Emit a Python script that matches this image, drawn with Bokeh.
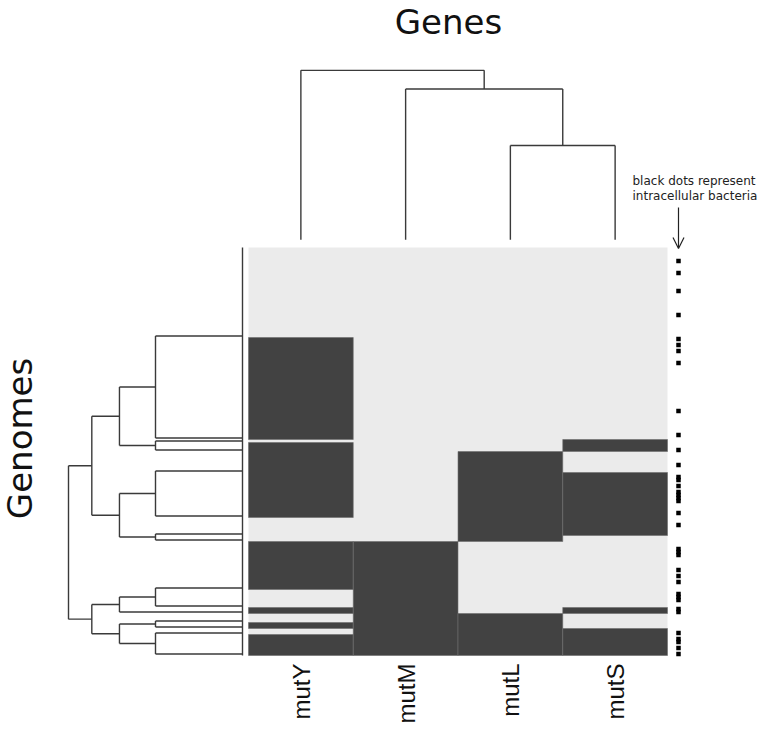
import math
from bokeh.plotting import figure
from bokeh.models import Range1d, Arrow, OpenHead
from bokeh.core.properties import value
from bokeh.embed import file_html
from bokeh.resources import INLINE

# ---------------- data ----------------
genes = ["mutY", "mutM", "mutL", "mutS"]

# genome clusters from top to bottom: presence (1) / absence (0) per gene
group_patterns = [
    [0, 0, 0, 0],
    [1, 0, 0, 0],
    [0, 0, 0, 1],
    [1, 0, 0, 1],
    [1, 0, 1, 0],
    [1, 0, 1, 1],
    [0, 0, 1, 1],
    [0, 0, 1, 0],
    [1, 1, 0, 0],
    [0, 1, 0, 0],
    [1, 1, 0, 1],
    [0, 1, 1, 0],
    [1, 1, 1, 0],
    [0, 1, 1, 1],
    [1, 1, 1, 1],
]
# number of genomes in each cluster
group_counts = [30, 34, 1, 3, 7, 15, 6, 2, 16, 6, 2, 3, 2, 2, 7]

# row dendrogram topology (leaves 0..14, merged nodes numbered from 15)
row_links = [(0, 1), (2, 3), (15, 16), (4, 5), (6, 7), (18, 19), (17, 20),
             (8, 9), (22, 10), (11, 12), (13, 14), (24, 25), (23, 26), (21, 27)]

# column dendrogram: (child_a, child_b, height); leaves 0..3 are the genes
col_links = [(2, 3, 4.47), (1, 4, 7.15), (0, 5, 8.03)]

# genome rows (0 = top) that are intracellular bacteria
intracellular_rows = [4, 8, 14, 22, 30, 32, 34, 38, 54, 62, 67, 72, 76, 77, 79,
                      81, 82, 83, 84, 88, 92, 100, 101, 102, 107, 109, 111,
                      115, 116, 117, 120, 121, 128, 130, 131, 133, 135]

# ---------------- layout (page pixels) ----------------
FIG_W, FIG_H, PAGE_M = 760, 728, 0
HEAT_L, HEAT_R, HEAT_T, HEAT_B = 248.0, 667.0, 247.0, 655.0
ROW_LEAF_X, ROW_SCALE = 242.0, 87.0      # px per unit distance
COL_LEAF_Y, COL_SCALE = 239.3, 21.1
DOT_PX = 678.0

n_rows = sum(group_counts)
col_w = (HEAT_R - HEAT_L) / len(genes)
row_h = (HEAT_B - HEAT_T) / n_rows
px_l, px_r, px_t, px_b = PAGE_M, PAGE_M + FIG_W, PAGE_M, PAGE_M + FIG_H


def gx(px):
    return (px - HEAT_L) / col_w


def gy(py):
    return (py - HEAT_T) / row_h


p = figure(width=FIG_W, height=FIG_H,
           x_range=Range1d(gx(px_l), gx(px_r)),
           y_range=Range1d(gy(px_b), gy(px_t)),
           output_backend="svg", toolbar_location=None,
           x_axis_location=None, y_axis_location=None,
           min_border=0, outline_line_color=None,
           background_fill_color="white", border_fill_color="white")
p.grid.visible = False
p.extra_x_ranges = {"rd": Range1d((ROW_LEAF_X - px_l) / ROW_SCALE, (ROW_LEAF_X - px_r) / ROW_SCALE)}
p.extra_y_ranges = {"cd": Range1d((COL_LEAF_Y - px_b) / COL_SCALE, (COL_LEAF_Y - px_t) / COL_SCALE)}

# ---------------- heatmap ----------------
LIGHT, DARK = "#ebebeb", "#424242"
starts = []
s = 0
for cnt in group_counts:
    starts.append(s)
    s += cnt

# light background of the matrix
p.quad(left=[0], right=[len(genes)], top=[0], bottom=[n_rows],
       fill_color=LIGHT, line_color=None)

# dark runs of consecutive present genomes, per gene
left, right, top, bottom = [], [], [], []
for j in range(len(genes)):
    run_start = None
    for g, pat in enumerate(group_patterns):
        if pat[j] and run_start is None:
            run_start = starts[g]
        if not pat[j] and run_start is not None:
            left.append(j); right.append(j + 1); top.append(run_start); bottom.append(starts[g])
            run_start = None
    if run_start is not None:
        left.append(j); right.append(j + 1); top.append(run_start); bottom.append(n_rows)
p.quad(left=left, right=right, top=top, bottom=bottom, fill_color=DARK,
       line_color="#6e6e6e", line_width=0.6)

# ---------------- row dendrogram (complete linkage, euclidean) ----------------
n_leaves = len(group_patterns)
pos = {i: starts[i] + group_counts[i] - 0.5 for i in range(n_leaves)}
hgt = {i: 0.0 for i in range(n_leaves)}
members = {i: [group_patterns[i]] for i in range(n_leaves)}
sx0, sx1, sy0, sy1 = [], [], [], []
for k, (a, b) in enumerate(row_links):
    node = n_leaves + k
    h = max(math.dist(u, v) for u in members[a] for v in members[b])
    members[node] = members[a] + members[b]
    pos[node] = (pos[a] + pos[b]) / 2
    hgt[node] = h
    sx0 += [h, hgt[a], hgt[b]]
    sx1 += [h, h, h]
    sy0 += [pos[a], pos[a], pos[b]]
    sy1 += [pos[b], pos[a], pos[b]]
# identical genomes joined at distance 0
sx0.append(0.0); sx1.append(0.0); sy0.append(0.0); sy1.append(float(n_rows))
p.segment(x0=sx0, y0=sy0, x1=sx1, y1=sy1, x_range_name="rd",
          line_color="#3a3a3a", line_width=1.4)

# ---------------- column dendrogram ----------------
cpos = {j: j + 0.5 for j in range(len(genes))}
chgt = {j: 0.0 for j in range(len(genes))}
cx0, cx1, cy0, cy1 = [], [], [], []
for k, (a, b, h) in enumerate(col_links):
    node = len(genes) + k
    cpos[node] = (cpos[a] + cpos[b]) / 2
    chgt[node] = h
    cx0 += [cpos[a], cpos[a], cpos[b]]
    cx1 += [cpos[b], cpos[a], cpos[b]]
    cy0 += [h, chgt[a], chgt[b]]
    cy1 += [h, h, h]
p.segment(x0=cx0, y0=cy0, x1=cx1, y1=cy1, y_range_name="cd",
          line_color="#3a3a3a", line_width=1.4)

# ---------------- intracellular dots ----------------
p.scatter(x=[gx(DOT_PX)] * len(intracellular_rows),
          y=[r + 0.5 for r in intracellular_rows],
          marker="square", size=4.5, fill_color="black", line_color=None)

p.add_layout(Arrow(end=OpenHead(size=11, line_width=1.2, line_color="#222222"),
                   x_start=gx(DOT_PX), y_start=gy(207), x_end=gx(DOT_PX), y_end=gy(248),
                   line_width=1.2, line_color="#222222"))

# ---------------- texts ----------------
p.text(x=[gx(448)], y=[gy(21)], text=["Genes"], text_font=value("DejaVu Sans"),
       text_font_size="34px", text_align="center", text_baseline="alphabetic",
       text_color="#111111")
p.text(x=[gx(19)], y=[gy(438)], text=["Genomes"], angle=math.pi / 2,
       text_font=value("DejaVu Sans"), text_font_size="34px", text_align="center",
       text_baseline="alphabetic", text_color="#111111")
p.text(x=[j + 0.5 + 0.5 / col_w for j in range(len(genes))],
       y=[gy(663)] * len(genes), text=genes, angle=math.pi / 2,
       text_font=value("Liberation Sans"), text_font_size="24px",
       text_align="right", text_baseline="alphabetic", text_color="#111111")
p.text(x=[gx(632), gx(632)], y=[gy(180), gy(195)],
       text=["black dots represent", "intracellular bacteria"],
       text_font=value("DejaVu Sans"), text_font_size="12px",
       text_align="left", text_baseline="alphabetic", text_color="#222222")

open("out.html", "w").write(file_html(p, INLINE))
